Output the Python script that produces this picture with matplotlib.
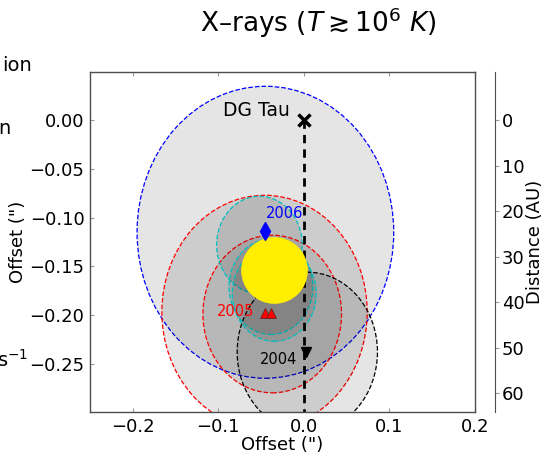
import numpy as np
import matplotlib
matplotlib.use("Agg")
import matplotlib.pyplot as plt
from matplotlib.patches import Circle

# source position and jet knot positions (arcsec offsets)
star_x, star_y = 0.0, 0.0
knot2004_x, knot2004_y = 0.003, -0.238
knot2005_x = [-0.046, -0.038]
knot2005_y = [-0.198, -0.198]
knot2006_x, knot2006_y = -0.045, -0.114
core_x, core_y = -0.035, -0.1534

# positional uncertainty circles
circ_x = [-0.045, -0.046, -0.037, 0.004, -0.052, -0.0385, -0.0346]
circ_y = [-0.115, -0.197, -0.199, -0.238, -0.128, -0.171, -0.178]
circ_r = [0.150, 0.120, 0.081, 0.082, 0.050, 0.049, 0.049]
circ_c = ['b', 'r', 'r', 'k', 'c', 'c', 'c']

au_per_arcsec = 214.0
xticks = [-0.2, -0.1, 0.0, 0.1, 0.2]
yticks = [0.0, -0.05, -0.10, -0.15, -0.20, -0.25]
dticks = [0, 10, 20, 30, 40, 50, 60]


def fmt(v, nd):
    s = '%.*f' % (nd, abs(v))
    return ('\u2212' + s) if v < 0 else s


fig = plt.figure(figsize=(5.43, 4.53), dpi=100)
ax = fig.add_axes([90/543., 1-412.3/453., 385/543., 340.6/453.])

for x, y, r, c in zip(circ_x, circ_y, circ_r, circ_c):
    ax.add_patch(Circle((x, y), r, facecolor=(0, 0, 0, 0.1), edgecolor=c,
                        linestyle='--', linewidth=0.9, zorder=1))

ax.plot([star_x, star_x], [star_y, -0.35], 'k--', lw=2, dashes=(3, 2.2), zorder=2)
ax.plot(star_x, star_y, 'kx', ms=8, mew=2.5, zorder=4)
ax.plot(core_x, core_y, 'o', color='#ffee00', ms=48, mew=0, zorder=3)
ax.plot(knot2004_x, knot2004_y, 'kv', ms=7, zorder=4)
ax.plot(knot2005_x, knot2005_y, 'r^', ms=7, mec='#662222', mew=0.6, zorder=4)
ax.plot(knot2006_x, knot2006_y, 'bd', ms=9, zorder=4)

ax.text(-0.016, 0.0045, 'DG Tau', fontsize=13.5, ha='right', va='baseline')
ax.text(-0.044, -0.1005, '2006', fontsize=10.5, color='b', ha='left', va='baseline')
ax.text(-0.058, -0.201, '2005', fontsize=10.5, color='r', ha='right', va='baseline')
ax.text(-0.008, -0.2505, '2004', fontsize=10.5, color='k', ha='right', va='baseline')

ax.set_xlim(-0.25, 0.2)
ax.set_ylim(-0.3, 0.05)
ax.set_xticks(xticks)
ax.set_yticks(yticks)
ax.set_xticklabels([fmt(t, 1) for t in xticks])
ax.set_yticklabels([fmt(t, 2) for t in yticks])
ax.tick_params(direction='in', top=True, length=3, width=0.8, color='0.6',
               labelsize=13, pad=4)
ax.set_xlabel('Offset (")', fontsize=13, labelpad=0)
ax.set_ylabel('Offset (")', fontsize=13, labelpad=2)
for s in ax.spines.values():
    s.set_color('0.3')
    s.set_linewidth(1.0)

# distance scale on an offset right spine
ax2 = ax.twinx()
ax2.set_ylim(-0.3 * -au_per_arcsec, 0.05 * -au_per_arcsec)
ax2.set_yticks(dticks)
for side in ['left', 'top', 'bottom']:
    ax2.spines[side].set_visible(False)
ax2.spines['right'].set_position(('outward', 14.4))
ax2.spines['right'].set_color('0.3')
ax2.tick_params(direction='out', length=3, width=0.8, color='0.6',
                labelsize=13, pad=2)
ax2.set_ylabel('Distance (AU)', fontsize=13, labelpad=1)

fig.text(318.6/543., 1-32/453., r'X–rays ($T \gtrsim 10^6\ K$)', fontsize=19,
         ha='center', va='baseline')

# label ends spilling over from the neighbouring panel
fig.text(32/543., 1-71/453., 'ion', fontsize=14, ha='right', va='baseline')
fig.text(11/543., 1-134/453., 'n', fontsize=14, ha='right', va='baseline')
fig.text(28/543., 1-367/453., r's$^{-1}$', fontsize=14, ha='right', va='baseline')

fig.savefig('out.png', dpi=100)
